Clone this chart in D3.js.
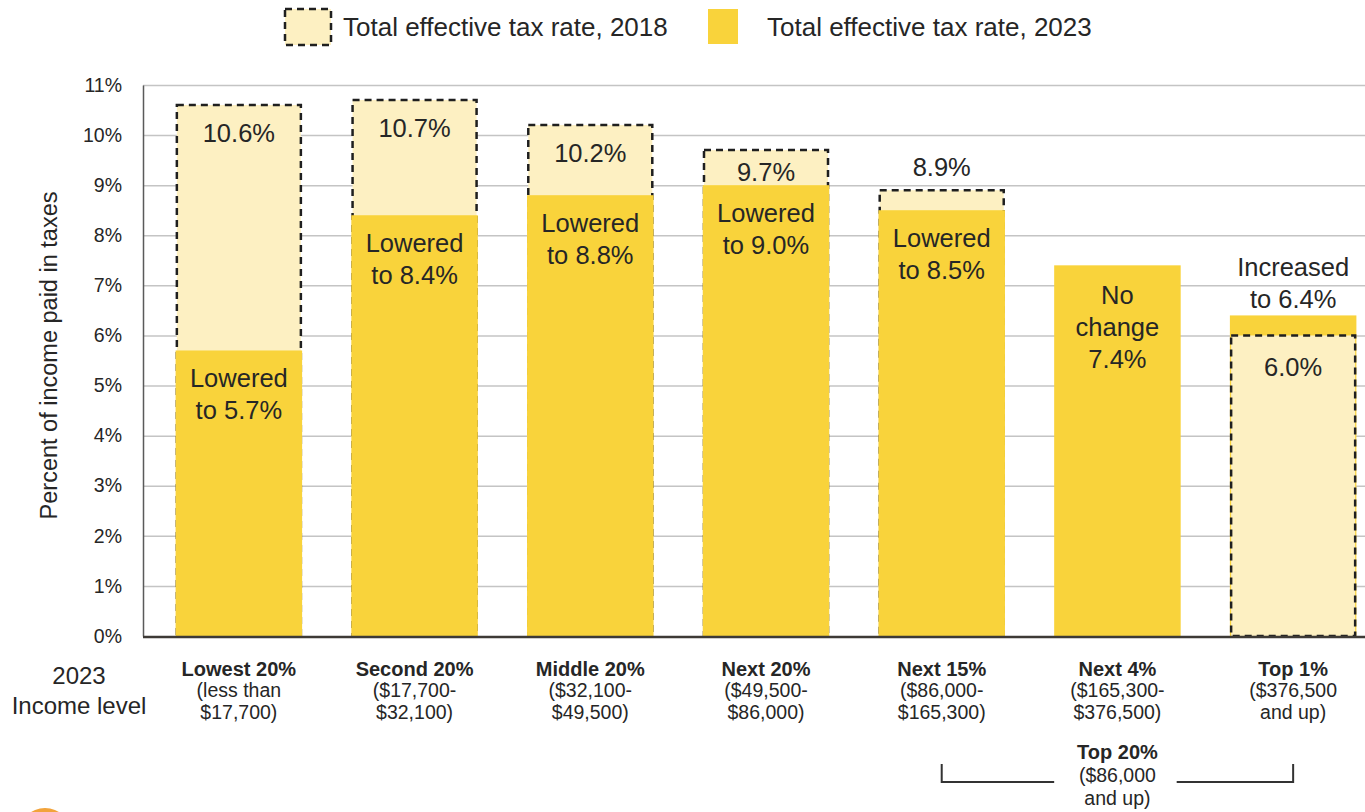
<!DOCTYPE html>
<html>
<head>
<meta charset="utf-8">
<script src="https://cdn.jsdelivr.net/npm/d3@7"></script>
<style>
    body { margin: 0; background: #ffffff; }
    text { font-family: "Liberation Sans", Arial, sans-serif; fill: #262626; }
</style>
</head>
<body>
<div id="chart"></div>
<script>
// data
const categories = ['Lowest 20%', 'Second 20%', 'Middle 20%', 'Next 20%', 'Next 15%', 'Next 4%', 'Top 1%'];
const incomeRanges = [
    ['(less than', '$17,700)'],
    ['($17,700-', '$32,100)'],
    ['($32,100-', '$49,500)'],
    ['($49,500-', '$86,000)'],
    ['($86,000-', '$165,300)'],
    ['($165,300-', '$376,500)'],
    ['($376,500', 'and up)']
];
const rate2018 = [10.6, 10.7, 10.2, 9.7, 8.9, 7.4, 6.0];
const rate2023 = [5.7, 8.4, 8.8, 9.0, 8.5, 7.4, 6.4];
const yTicks = [0, 1, 2, 3, 4, 5, 6, 7, 8, 9, 10, 11];
const legendLabels = ['Total effective tax rate, 2018', 'Total effective tax rate, 2023'];
const groupLabel = ['Top 20%', '($86,000', 'and up)'];
const groupSpan = ['Next 15%', 'Top 1%'];

let width = 1365,
    height = 812,
    plot = {left: 143, right: 1365, top: 85, bottom: 636};

let colors = {bar2023: '#f9d33b', bar2018: '#fdf0c2', grid: '#c4c4c4', axis: '#5a5a5a', dash: '#1f1f1f'};

let fmt = d3.format('.1f');

let svg = d3.select('#chart')
    .append('svg')
    .attr('width', width)
    .attr('height', height);

let y = d3.scaleLinear().domain([0, 11]).range([plot.bottom, plot.top]);

let x = d3.scaleBand()
    .domain(categories)
    .range([151, 1381])
    .paddingInner(0.28)
    .paddingOuter(0.14);

let rows = categories.map(function(c, i) {
    return {cat: c, v18: rate2018[i], v23: rate2023[i], range: incomeRanges[i]};
});

drawGrid();
drawBars();
drawBarLabels();
drawAxes();
drawCategoryLabels();
drawLegend();
drawLogo();

function drawGrid() {
    let grid = svg.append('g')
        .attr('transform', 'translate(' + plot.left + ',0)')
        .call(d3.axisRight(y).tickValues(yTicks.slice(1)).tickSize(plot.right - plot.left).tickFormat(''));
    grid.select('.domain').remove();
    grid.selectAll('line').attr('stroke', colors.grid).attr('stroke-width', 1.5);
}

function drawBars() {
    let inset = 1.25;
    rows.forEach(function(d) {
        let g = svg.append('g');
        let yellow = function() {
            g.append('rect')
                .attr('x', x(d.cat))
                .attr('width', x.bandwidth())
                .attr('y', y(d.v23))
                .attr('height', y(0) - y(d.v23))
                .attr('fill', colors.bar2023);
        };
        let pale = function() {
            g.append('rect')
                .attr('x', x(d.cat) + inset)
                .attr('width', x.bandwidth() - 2 * inset)
                .attr('y', y(d.v18))
                .attr('height', y(0) - y(d.v18))
                .attr('fill', colors.bar2018)
                .attr('stroke', colors.dash)
                .attr('stroke-width', 2.5)
                .attr('stroke-dasharray', '7,5');
        };
        // the lower rate is drawn on top; no 2018 box when nothing changed
        if (d.v23 === d.v18) {
            yellow();
        } else if (d.v23 > d.v18) {
            yellow();
            pale();
        } else {
            pale();
            yellow();
        }
    });
}

function drawBarLabels() {
    let lineGap = 32;
    rows.forEach(function(d) {
        let cx = x(d.cat) + x.bandwidth() / 2;
        let g = svg.append('g')
            .attr('text-anchor', 'middle')
            .style('font-size', '25.5px');

        // 2018 value
        if (d.v18 !== d.v23) {
            let ly;
            if (d.v23 > d.v18) {
                ly = y(d.v18) + 32;
            } else {
                let gap = y(d.v23) - y(d.v18);
                ly = gap >= 30 ? y(d.v18) + Math.min(28, gap / 2 + 4) : y(d.v18) - 23;
            }
            g.append('text')
                .attr('x', cx)
                .attr('y', ly)
                .attr('dy', '0.35em')
                .text(fmt(d.v18) + '%');
        }

        // 2023 value
        let lines, first;
        if (d.v23 < d.v18) {
            lines = ['Lowered', 'to ' + fmt(d.v23) + '%'];
            first = y(d.v23) + 28;
        } else if (d.v23 === d.v18) {
            lines = ['No', 'change', fmt(d.v23) + '%'];
            first = y(d.v23) + 30;
        } else {
            lines = ['Increased', 'to ' + fmt(d.v23) + '%'];
            first = y(d.v23) - 16 - lineGap;
        }
        lines.forEach(function(t, i) {
            g.append('text')
                .attr('x', cx)
                .attr('y', first + i * lineGap)
                .attr('dy', '0.35em')
                .text(t);
        });
    });
}

function drawAxes() {
    let yAxis = svg.append('g')
        .attr('transform', 'translate(' + plot.left + ',0)')
        .call(d3.axisLeft(y).tickValues(yTicks).tickSize(0).tickPadding(21).tickFormat(function(d) { return d + '%'; }));
    yAxis.select('.domain').attr('stroke', colors.axis).attr('stroke-width', 1.5);
    yAxis.selectAll('text')
        .style('font-size', '19.5px')
        .style('font-family', '"Liberation Sans", Arial, sans-serif')
        .attr('fill', '#333');

    svg.append('line')
        .attr('x1', plot.left)
        .attr('x2', plot.right)
        .attr('y1', y(0) + 1)
        .attr('y2', y(0) + 1)
        .attr('stroke', '#3d3a36')
        .attr('stroke-width', 2.5);

    svg.append('text')
        .attr('transform', 'translate(57,' + (y(5.6)) + ') rotate(-90)')
        .attr('text-anchor', 'middle')
        .style('font-size', '23.5px')
        .text('Percent of income paid in taxes');
}

function drawCategoryLabels() {
    let g = svg.append('g').attr('text-anchor', 'middle');

    rows.forEach(function(d) {
        let cx = x(d.cat) + x.bandwidth() / 2;
        g.append('text')
            .attr('x', cx)
            .attr('y', 676)
            .style('font-size', '20px')
            .style('font-weight', 'bold')
            .text(d.cat);
        d.range.forEach(function(t, i) {
            g.append('text')
                .attr('x', cx)
                .attr('y', 697 + i * 22)
                .style('font-size', '19.5px')
                .attr('fill', '#333')
                .text(t);
        });
    });

    g.append('text').attr('x', 79).attr('y', 684).style('font-size', '24px').text('2023');
    g.append('text').attr('x', 79).attr('y', 714).style('font-size', '24px').text('Income level');

    // Top 20% group bracket
    let mid = categories[categories.indexOf(groupSpan[0]) + 1];
    let xa = x(groupSpan[0]) + x.bandwidth() / 2,
        xb = x(groupSpan[1]) + x.bandwidth() / 2,
        gx = x(mid) + x.bandwidth() / 2,
        by = 782;
    let path = d3.path();
    path.moveTo(xa, by - 18);
    path.lineTo(xa, by);
    path.lineTo(x(mid), by);
    path.moveTo(x(mid) + x.bandwidth() - 4, by);
    path.lineTo(xb, by);
    path.lineTo(xb, by - 18);
    svg.append('path')
        .attr('d', path.toString())
        .attr('fill', 'none')
        .attr('stroke', '#333')
        .attr('stroke-width', 2);

    groupLabel.forEach(function(t, i) {
        g.append('text')
            .attr('x', gx)
            .attr('y', 759 + i * 23)
            .style('font-size', i === 0 ? '20px' : '19.5px')
            .style('font-weight', i === 0 ? 'bold' : 'normal')
            .attr('fill', i === 0 ? '#262626' : '#333')
            .text(t);
    });
}

function drawLegend() {
    let g = svg.append('g');

    g.append('rect')
        .attr('x', 285).attr('y', 9)
        .attr('width', 46).attr('height', 36)
        .attr('fill', colors.bar2018)
        .attr('stroke', colors.dash)
        .attr('stroke-width', 2.5)
        .attr('stroke-dasharray', '7,5');
    g.append('text')
        .attr('x', 343).attr('y', 27).attr('dy', '0.35em')
        .style('font-size', '26px')
        .text(legendLabels[0]);

    g.append('rect')
        .attr('x', 708).attr('y', 9)
        .attr('width', 30).attr('height', 35)
        .attr('fill', colors.bar2023);
    g.append('text')
        .attr('x', 767).attr('y', 27).attr('dy', '0.35em')
        .style('font-size', '26px')
        .text(legendLabels[1]);
}

function drawLogo() {
    // logo cut off at the bottom edge of the picture
    svg.append('circle')
        .attr('cx', 45).attr('cy', 834)
        .attr('r', 26)
        .attr('fill', '#f2a33a');
}
</script>
</body>
</html>
